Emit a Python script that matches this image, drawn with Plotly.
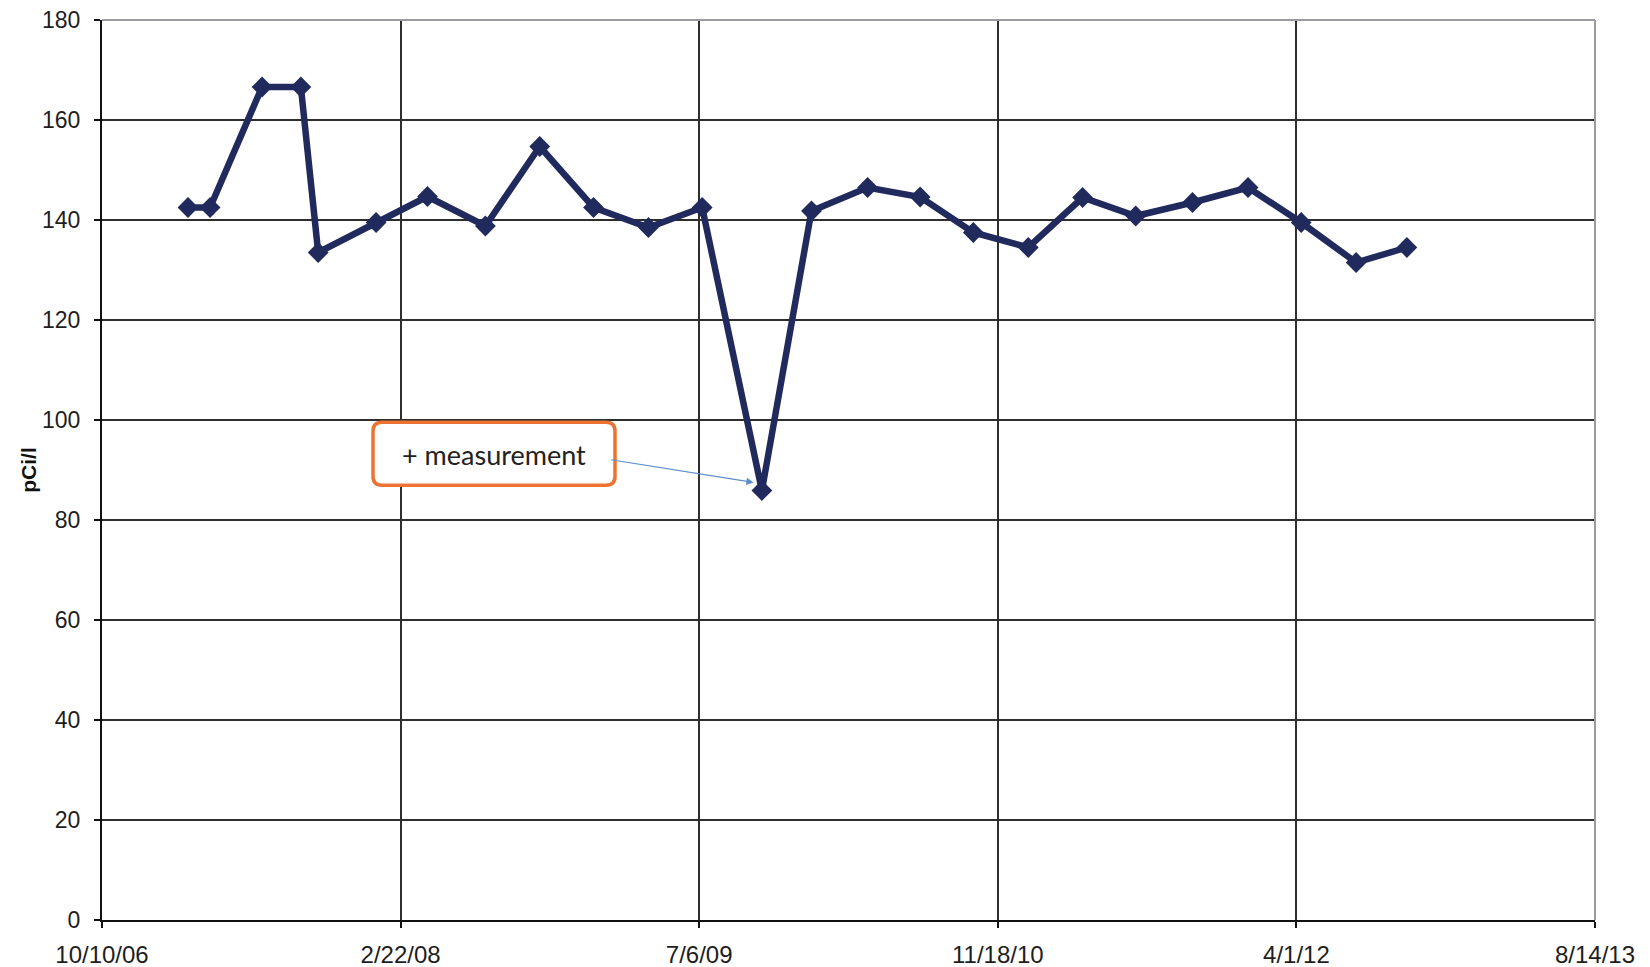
import plotly.graph_objects as go

dates = ["2007-03-03", "2007-04-09", "2007-07-05", "2007-09-08", "2007-10-07",
         "2008-01-12", "2008-04-07", "2008-07-13", "2008-10-12", "2009-01-10",
         "2009-04-12", "2009-07-11", "2009-10-19", "2010-01-10", "2010-04-14",
         "2010-07-11", "2010-10-08", "2011-01-08", "2011-04-09", "2011-07-07",
         "2011-10-10", "2012-01-11", "2012-04-09", "2012-07-10", "2012-10-03"]
values = [142.5, 142.5, 166.6, 166.6, 133.5, 139.5, 144.7, 138.8, 154.7, 142.5,
          138.5, 142.5, 85.9, 141.8, 146.5, 144.6, 137.5, 134.5, 144.5, 140.8,
          143.5, 146.5, 139.5, 131.5, 134.5]

x_tickvals = ["2006-10-10", "2008-02-22", "2009-07-06", "2010-11-18", "2012-04-01", "2013-08-14"]
x_ticktext = ["10/10/06", "2/22/08", "7/6/09", "11/18/10", "4/1/12", "8/14/13"]
y_tickvals = [0, 20, 40, 60, 80, 100, 120, 140, 160, 180]

annot_text = "+ measurement"
arrow_target = ("2009-10-05", 87.5)
box_center = ("2008-07-27", 93.2)

line_color = "#202a5c"
grid_color = "#2e2e2e"

fig = go.Figure()
fig.add_trace(go.Scatter(
    x=dates, y=values, mode="lines+markers",
    line=dict(color=line_color, width=6.5),
    marker=dict(symbol="diamond", size=16, color=line_color),
    showlegend=False,
))

fig.update_layout(
    width=1650, height=967,
    margin=dict(l=102, r=55, t=19.5, b=47, autoexpand=False),
    paper_bgcolor="white", plot_bgcolor="white",
    font=dict(family="Liberation Sans, Arial, sans-serif", size=23, color="#222222"),
    xaxis=dict(
        type="date", range=[x_tickvals[0], x_tickvals[-1]],
        tickmode="array", tickvals=x_tickvals, ticktext=x_ticktext,
        showgrid=True, gridcolor=grid_color, gridwidth=1.5,
        showline=True, linecolor="#111111", linewidth=2,
        ticks="outside", ticklen=6, tickcolor="#111111", tickwidth=2,
        ticklabelstandoff=6, zeroline=False,
        tickfont=dict(size=24, color="#1e1e1e"),
    ),
    yaxis=dict(
        range=[0, 180], tickmode="array", tickvals=y_tickvals,
        showgrid=True, gridcolor=grid_color, gridwidth=1.5,
        showline=True, linecolor="#111111", linewidth=2,
        ticks="outside", ticklen=6, tickcolor="#111111", tickwidth=2,
        ticklabelstandoff=9, zeroline=False,
        title=dict(text="<b>pCi/l</b>", font=dict(size=21, color="#111111"), standoff=0),
        tickfont=dict(size=23, color="#1e1e1e"),
    ),
)

# lighter plot border on top and right
fig.add_shape(type="line", xref="paper", yref="paper", x0=0, x1=1, y0=1, y1=1,
              line=dict(color="#9a9aa2", width=2), layer="above")
fig.add_shape(type="line", xref="paper", yref="paper", x0=1, x1=1, y0=0, y1=1,
              line=dict(color="#9a9aa2", width=2), layer="above")

# rounded orange callout box (paper coords)
L, R = (373 - 102) / 1493, (615 - 102) / 1493
T, B = (920 - 422) / 900.5, (920 - 485) / 900.5
rx, ry = 9 / 1493, 9 / 900.5
path = (f"M {L+rx} {T} L {R-rx} {T} Q {R} {T} {R} {T-ry} L {R} {B+ry} Q {R} {B} {R-rx} {B} "
        f"L {L+rx} {B} Q {L} {B} {L} {B+ry} L {L} {T-ry} Q {L} {T} {L+rx} {T} Z")
fig.add_shape(type="path", xref="paper", yref="paper", path=path,
              line=dict(color="#ec7332", width=3.5), fillcolor="white", layer="above")

fig.add_annotation(x=box_center[0], y=box_center[1], text=annot_text, showarrow=False,
                   font=dict(family="Lato, Open Sans, sans-serif", size=27, color="#222222"),
                   xanchor="center", yanchor="middle")

fig.add_annotation(x=arrow_target[0], y=arrow_target[1], text="", showarrow=True,
                   ax=-144, ay=-23, axref="pixel", ayref="pixel",
                   arrowhead=2, arrowsize=1.2, arrowwidth=1.2, arrowcolor="#5b8ccc")

fig.write_html("out.html", config={"displayModeBar": False},
               post_script="document.body.style.margin='0';")
